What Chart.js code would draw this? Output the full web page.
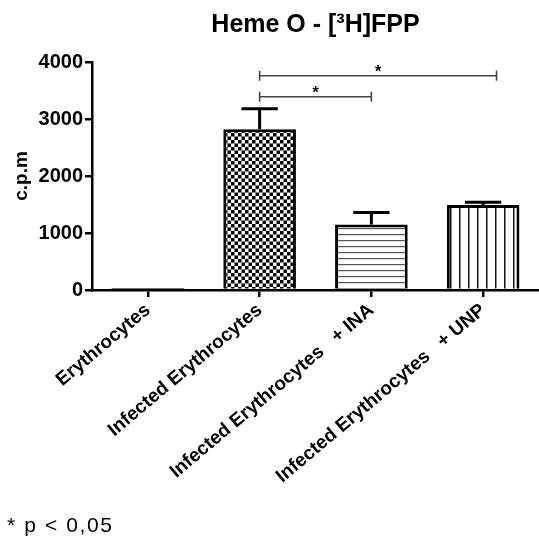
<!DOCTYPE html>
<html>
<head>
<meta charset="utf-8">
<script src="https://cdn.jsdelivr.net/npm/chart.js@4.4.1/dist/chart.umd.min.js"></script>
<style>
  body { margin: 0; background: #fff; }
  #wrap { position: relative; width: 539px; height: 540px; }
  #note { position: absolute; left: 7px; top: 513px; font: 21px "Liberation Sans", Arial, sans-serif; letter-spacing: 1.6px; color: #000; }
</style>
</head>
<body>
<div id="wrap">
  <canvas id="myChart" width="539" height="540"></canvas>
  <div id="note">* p &lt; 0,05</div>
</div>
<script>
var labels = ["Erythrocytes", "Infected Erythrocytes", "Infected Erythrocytes   + INA", "Infected Erythrocytes   + UNP"];
var values = [20, 2820, 1150, 1490];
var errors = [0, 360, 210, 50];
var yTicks = [0, 1000, 2000, 3000, 4000];
// significance brackets: from category, to category, height (c.p.m)
var brackets = [
    { from: 1, to: 2, y: 3390 },
    { from: 1, to: 3.12, y: 3760 }
];

function makePattern(kind) {
    var c = document.createElement('canvas');
    var p = c.getContext('2d');
    if (kind == 'checker') {
        c.width = 7; c.height = 7;
        p.fillStyle = '#fff'; p.fillRect(0, 0, 7, 7);
        p.fillStyle = '#000';
        p.fillRect(0, 0, 3.5, 3.5);
        p.fillRect(3.5, 3.5, 3.5, 3.5);
    } else if (kind == 'hlines') {
        c.width = 6; c.height = 6;
        p.fillStyle = '#fff'; p.fillRect(0, 0, 6, 6);
        p.fillStyle = '#555'; p.fillRect(0, 0, 6, 1.2);
    } else if (kind == 'vlines') {
        c.width = 9; c.height = 8;
        p.fillStyle = '#fff'; p.fillRect(0, 0, 9, 8);
        p.fillStyle = '#111'; p.fillRect(0, 0, 1.5, 8);
    }
    return document.getElementById('myChart').getContext('2d').createPattern(c, 'repeat');
}

var fills = ['#444', makePattern('checker'), makePattern('hlines'), makePattern('vlines')];
var borders = ['#444', '#000', '#000', '#000'];
var borderWidths = [0, 3, 3, 3];

var extras = {
    id: 'extras',
    afterDatasetsDraw: function(chart) {
        var ctx = chart.ctx;
        var xs = chart.scales.x, ys = chart.scales.y;
        var meta = chart.getDatasetMeta(0);
        ctx.save();
        // error bars (upper only)
        ctx.strokeStyle = '#000';
        ctx.lineWidth = 3;
        meta.data.forEach(function(bar, i) {
            if (!errors[i]) return;
            var top = ys.getPixelForValue(values[i] + errors[i]);
            var half = bar.width / 4;
            ctx.beginPath();
            ctx.moveTo(bar.x, bar.y);
            ctx.lineTo(bar.x, top);
            ctx.moveTo(bar.x - half, top);
            ctx.lineTo(bar.x + half, top);
            ctx.stroke();
        });
        // significance brackets
        ctx.strokeStyle = '#444';
        ctx.lineWidth = 1.6;
        ctx.fillStyle = '#000';
        ctx.font = 'bold 16px "Liberation Sans", Arial, sans-serif';
        ctx.textAlign = 'center';
        brackets.forEach(function(b) {
            var x1 = xs.getPixelForValue(b.from), x2 = xs.getPixelForValue(b.to);
            var y = ys.getPixelForValue(b.y);
            ctx.beginPath();
            ctx.moveTo(x1, y); ctx.lineTo(x2, y);
            ctx.moveTo(x1, y - 5); ctx.lineTo(x1, y + 5);
            ctx.moveTo(x2, y - 5); ctx.lineTo(x2, y + 5);
            ctx.stroke();
            ctx.fillText('*', (x1 + x2) / 2, y + 1);
        });
        ctx.restore();
    }
};

var ctx = document.getElementById('myChart').getContext('2d');
var myChart = new Chart(ctx, {
    type: 'bar',
    data: {
        labels: labels,
        datasets: [{
            data: values,
            backgroundColor: fills,
            borderColor: borders,
            borderWidth: borderWidths,
            borderSkipped: 'start',
            minBarLength: 2,
            categoryPercentage: 1,
            barPercentage: 0.65
        }]
    },
    options: {
        responsive: false,
        animation: false,
        layout: { padding: { left: 6, right: 0, top: 0, bottom: 0 } },
        plugins: {
            legend: { display: false },
            tooltip: { enabled: false },
            title: {
                display: true,
                text: 'Heme O - [³H]FPP',
                fullSize: false,
                color: '#000',
                font: { family: '"Liberation Sans", Arial, sans-serif', size: 25, weight: 'bold' },
                padding: { top: 10, bottom: 22 }
            }
        },
        scales: {
            x: {
                afterFit: function(scale) { scale.height = 250; },
                grid: { offset: false, drawOnChartArea: false, color: '#000', lineWidth: 2.5, tickLength: 7 },
                border: { color: '#000', width: 2.5 },
                ticks: {
                    color: '#000',
                    minRotation: 40, maxRotation: 40,
                    padding: 2,
                    font: { family: '"Liberation Sans", Arial, sans-serif', size: 19, weight: 'bold' }
                }
            },
            y: {
                min: 0, max: 4000,
                afterFit: function(scale) { scale.width = 86; },
                afterBuildTicks: function(scale) { scale.ticks = yTicks.map(function(v) { return { value: v }; }); },
                grid: { drawOnChartArea: false, color: '#000', lineWidth: 2.5, tickLength: 7 },
                border: { color: '#000', width: 2.5 },
                ticks: {
                    color: '#000',
                    padding: 2,
                    callback: function(v) { return String(v); },
                    font: { family: '"Liberation Sans", Arial, sans-serif', size: 20, weight: 'bold' }
                },
                title: {
                    display: true,
                    text: 'c.p.m',
                    color: '#000',
                    padding: { top: 4, bottom: 0 },
                    font: { family: '"Liberation Sans", Arial, sans-serif', size: 19, weight: 'bold' }
                }
            }
        }
    },
    plugins: [extras]
});
</script>
</body>
</html>
